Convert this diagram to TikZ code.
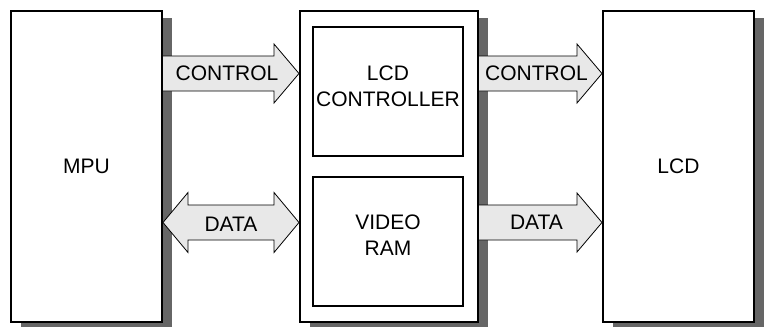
\documentclass[tikz,border=0pt]{standalone}
\usepackage{fontspec}
\setmainfont{Liberation Sans}
\usetikzlibrary{calc,shadows}

\definecolor{shadowgray}{HTML}{666666}
\definecolor{busgray}{HTML}{E8E8E8}

\tikzset{
  unitbox/.style={draw, line width=2pt, fill=white, minimum height=310.5pt,
    inner sep=0pt, font=\fontsize{21}{26}\selectfont,
    drop shadow={shadow xshift=10pt, shadow yshift=-7pt, fill=shadowgray, opacity=1}},
  memblock/.style={draw, line width=1.8pt, minimum width=150pt, minimum height=129pt, inner sep=0pt},
  blocktext/.style={align=center, inner sep=0pt, font=\fontsize{21}{26}\selectfont},
  busline/.style={draw=black, line width=0.8pt},
  buslabel/.style={inner sep=0pt, font=\fontsize{21}{26}\selectfont},
}

%% one-way bus: from node #1 to node #2 at height #3, label node #4 with text #5
\newcommand{\busright}[5]{%
  \fill[busgray] let \p1=(#1.east), \p2=(#2.west) in
    (\x1,#3pt+17.5pt) -- (\x2-25pt,#3pt+17.5pt) -- (\x2-25pt,#3pt+29.5pt) -- (\x2,#3pt)
    -- (\x2-25pt,#3pt-29.5pt) -- (\x2-25pt,#3pt-17.5pt) -- (\x1,#3pt-17.5pt) -- cycle;
  \draw[busline] let \p1=(#1.east), \p2=(#2.west) in
    (\x1,#3pt+17.5pt) -- (\x2-25pt,#3pt+17.5pt) -- (\x2-25pt,#3pt+29.5pt) -- (\x2,#3pt)
    -- (\x2-25pt,#3pt-29.5pt) -- (\x2-25pt,#3pt-17.5pt) -- (\x1,#3pt-17.5pt);
  \path let \p1=(#1.east), \p2=(#2.west) in
    node[buslabel] (#4) at ({(\x1+\x2)/2-4pt},#3pt) {#5};}

%% two-way bus
\newcommand{\busboth}[5]{%
  \filldraw[busline, fill=busgray] let \p1=(#1.east), \p2=(#2.west) in
    (\x1,#3pt) -- (\x1+25pt,#3pt+30pt) -- (\x1+25pt,#3pt+17.5pt) -- (\x2-25pt,#3pt+17.5pt)
    -- (\x2-25pt,#3pt+30pt) -- (\x2,#3pt) -- (\x2-25pt,#3pt-30pt) -- (\x2-25pt,#3pt-17.5pt)
    -- (\x1+25pt,#3pt-17.5pt) -- (\x1+25pt,#3pt-30pt) -- cycle;
  \path let \p1=(#1.east), \p2=(#2.west) in
    node[buslabel] (#4) at ({(\x1+\x2)/2},#3pt-2pt) {#5};}

\begin{document}
\begin{tikzpicture}[x=1pt,y=1pt]
\useasboundingbox (0,0) rectangle (764,-327);

%%Units
\node[unitbox, minimum width=151pt] (mpu) at (86.5,-166.25) {MPU};
\node[unitbox, minimum width=178pt] (ctrl) at (389,-166.25) {};
\node[unitbox, minimum width=151pt] (lcd) at (678.5,-166.25) {LCD};

%%Inside the controller
\node[memblock] (lcdc) at (388,-91.5) {};
\node[memblock] (vram) at (388,-241.5) {};
\node[blocktext] (lcdctext) at ([yshift=5pt]lcdc.center) {LCD\\CONTROLLER};
\node[blocktext] (vramtext) at ([yshift=6pt]vram.center) {VIDEO\\RAM};

%%Buses
\busright{mpu}{ctrl}{-73.5}{ctrlin}{CONTROL}
\busboth{mpu}{ctrl}{-222.5}{datain}{DATA}
\busright{ctrl}{lcd}{-73.5}{ctrlout}{CONTROL}
\busright{ctrl}{lcd}{-222.5}{dataout}{DATA}

\end{tikzpicture}
\end{document}
